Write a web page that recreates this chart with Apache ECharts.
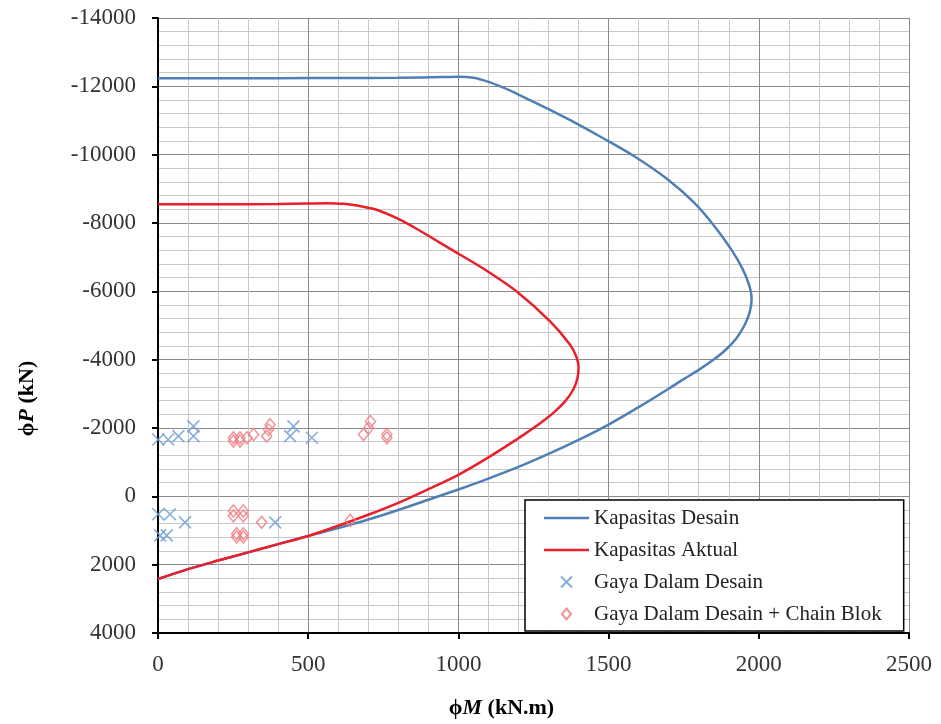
<!DOCTYPE html>
<html>
<head>
<meta charset="utf-8">
<script src="https://cdn.jsdelivr.net/npm/echarts@6/dist/echarts.min.js"></script>
<style>
  html, body { margin: 0; padding: 0; background: #fff; }
  #chart { width: 941px; height: 724px; }
</style>
</head>
<body>
<div id="chart"></div>
<script>
// Kapasitas Desain (phiM, phiP)
var desainM = [0, 200, 400, 600, 800, 950, 1000, 1050, 1100, 1150, 1200, 1300, 1400, 1473, 1584, 1696, 1784, 1851, 1907, 1946, 1968, 1976, 1970, 1952, 1925, 1890, 1851, 1800, 1750, 1700, 1600, 1500, 1400, 1300, 1200, 1100, 1000, 900, 800, 700, 600, 500, 400, 300, 200, 100, 0];
var desainP = [-12240, -12240, -12240, -12245, -12250, -12270, -12280, -12250, -12130, -11960, -11760, -11330, -10880, -10524, -9960, -9281, -8602, -7921, -7242, -6659, -6173, -5785, -5400, -5000, -4620, -4290, -4010, -3700, -3430, -3150, -2610, -2100, -1650, -1240, -860, -520, -200, 100, 400, 680, 930, 1160, 1400, 1640, 1880, 2130, 2420];

// Kapasitas Aktual
var aktualM = [0, 200, 400, 500, 560, 620, 680, 730, 800, 862, 973, 1084, 1196, 1307, 1373, 1392, 1400, 1396, 1382, 1355, 1320, 1280, 1230, 1200, 1100, 1000, 900, 800, 700, 600, 500, 400, 300, 200, 100, 0];
var aktualP = [-8550, -8550, -8555, -8570, -8580, -8560, -8480, -8380, -8120, -7824, -7242, -6659, -5980, -5106, -4425, -4100, -3800, -3450, -3120, -2780, -2470, -2190, -1880, -1700, -1140, -630, -210, 190, 540, 860, 1160, 1400, 1640, 1880, 2130, 2420];

// Gaya Dalam Desain
var gayaM = [1, 34, 68, 118, 118, 451, 440, 512, 1, 40, 90, 7, 29, 390];
var gayaP = [-1666, -1666, -1762, -2048, -1762, -2048, -1762, -1714, 524, 524, 762, 1143, 1143, 762];

// Gaya Dalam Desain + Chain Blok
var chainM = [251, 273, 296, 251, 273, 318, 362, 373, 368, 684, 701, 707, 762, 762, 251, 284, 251, 284, 262, 284, 262, 284, 345, 640];
var chainP = [-1714, -1714, -1714, -1620, -1620, -1809, -1762, -2095, -1950, -1809, -2000, -2190, -1809, -1714, 429, 429, 571, 571, 1095, 1095, 1190, 1190, 762, 700];

function pairs(xs, ys) {
  var out = [];
  for (var i = 0; i < xs.length; i++) out.push([xs[i], ys[i]]);
  return out;
}

var serif = 'Liberation Serif';
var lineIcon = 'path://M0,0L45,0L45,2.5L0,2.5Z';
var xIcon = 'path://M0,0L10,10M10,0L0,10';
var diamondIcon = 'path://M5,0L10,6L5,12L0,6Z';
var chart = echarts.init(document.getElementById('chart'));

chart.setOption({
  animation: false,
  backgroundColor: '#fff',
  grid: { left: 158, right: 32, top: 18, bottom: 88, containLabel: false },
  xAxis: {
    type: 'value',
    min: 0, max: 2500, interval: 500,
    name: '{a|ϕ}{b|M}{a| (kN.m)}',
    nameLocation: 'middle',
    nameGap: 64,
    nameTextStyle: {
      padding: [0, 64, 0, 0],
      rich: {
        a: { fontFamily: serif, fontSize: 22, fontWeight: 'bold', color: '#000' },
        b: { fontFamily: serif, fontSize: 22, fontWeight: 'bold', fontStyle: 'italic', color: '#000' }
      }
    },
    axisLine: { onZero: false, lineStyle: { color: '#000', width: 2 } },
    axisTick: { inside: false, length: 6, lineStyle: { color: '#000', width: 2 } },
    axisLabel: { margin: 20, fontFamily: serif, fontSize: 23, color: '#333', formatter: function (v) { return String(v); } },
    splitLine: { show: true, lineStyle: { color: '#8a8a8a', width: 1 } },
    minorTick: { show: false, splitNumber: 5 },
    minorSplitLine: { show: true, lineStyle: { color: '#c8c8c8', width: 1 } }
  },
  yAxis: {
    type: 'value',
    inverse: true,
    min: -14000, max: 4000, interval: 2000,
    name: '{a|ϕ}{b|P}{a| (kN)}',
    nameLocation: 'middle',
    nameGap: 120,
    nameRotate: 90,
    nameTextStyle: {
      padding: [0, 146, 0, 0],
      rich: {
        a: { fontFamily: serif, fontSize: 22, fontWeight: 'bold', color: '#000' },
        b: { fontFamily: serif, fontSize: 22, fontWeight: 'bold', fontStyle: 'italic', color: '#000' }
      }
    },
    axisLine: { onZero: false, lineStyle: { color: '#000', width: 2 } },
    axisTick: { inside: false, length: 6, lineStyle: { color: '#000', width: 2 } },
    axisLabel: { margin: 22, fontFamily: serif, fontSize: 23, color: '#333', formatter: function (v) { return String(v); } },
    splitLine: { show: true, lineStyle: { color: '#8a8a8a', width: 1 } },
    minorTick: { show: false, splitNumber: 5 },
    minorSplitLine: { show: true, lineStyle: { color: '#c8c8c8', width: 1 } }
  },
  legend: {
    orient: 'vertical',
    left: 525,
    top: 500,
    backgroundColor: '#fff',
    borderColor: '#000',
    borderWidth: 1.5,
    borderRadius: 0,
    padding: [7, 22, 6, 19],
    itemGap: 10,
    itemWidth: 45,
    itemHeight: 11,
    textStyle: { fontFamily: serif, fontSize: 21, color: '#222', lineHeight: 22 },
    data: [
      { name: 'Kapasitas Desain', icon: lineIcon },
      { name: 'Kapasitas Aktual', icon: lineIcon },
      { name: 'Gaya Dalam Desain', icon: xIcon },
      { name: 'Gaya Dalam Desain + Chain Blok', icon: diamondIcon }
    ]
  },
  series: [
    {
      name: 'Kapasitas Desain',
      type: 'line',
      data: pairs(desainM, desainP),
      symbol: 'none',
      smooth: 0.3,
      lineStyle: { color: '#4f7fb5', width: 2.5 },
      itemStyle: { color: '#4f7fb5' },
      z: 3
    },
    {
      name: 'Kapasitas Aktual',
      type: 'line',
      data: pairs(aktualM, aktualP),
      symbol: 'none',
      smooth: 0.3,
      lineStyle: { color: '#e8202a', width: 2.5 },
      itemStyle: { color: '#e8202a' },
      z: 4
    },
    {
      name: 'Gaya Dalam Desain',
      type: 'scatter',
      data: pairs(gayaM, gayaP),
      symbol: xIcon,
      symbolSize: 12,
      itemStyle: { color: 'transparent', borderColor: '#6f9fd3', borderWidth: 1.5, opacity: 0.85 },
      z: 5
    },
    {
      name: 'Gaya Dalam Desain + Chain Blok',
      type: 'scatter',
      data: pairs(chainM, chainP),
      symbol: diamondIcon,
      symbolSize: [10, 12],
      itemStyle: { color: 'transparent', borderColor: '#f07f85', borderWidth: 1.5, opacity: 0.85 },
      z: 5
    }
  ]
});
</script>
</body>
</html>
